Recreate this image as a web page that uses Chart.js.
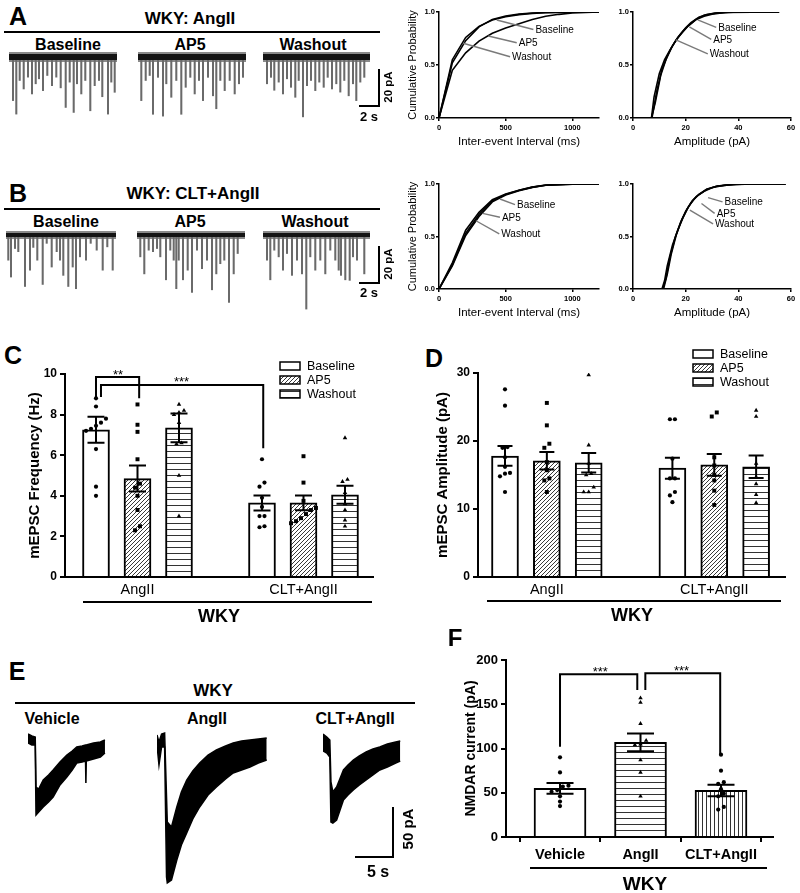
<!DOCTYPE html>
<html>
<head>
<meta charset="utf-8">
<title>WKY AngII mEPSC and NMDAR currents</title>
<script src="https://cdn.jsdelivr.net/npm/chart.js@4.4.1/dist/chart.umd.min.js"></script>
<style>
  html, body { margin: 0; padding: 0; background: #fff; }
  body { position: relative; width: 800px; height: 893px; overflow: hidden;
         font-family: "Liberation Sans", Arial, Helvetica, sans-serif; color: #000; }
  canvas { position: absolute; }
  .t { position: absolute; white-space: nowrap; line-height: 1; }
  .r { position: absolute; background: #000; }
</style>
</head>
<body>
<script>
// ---------- A / B: mEPSC traces, events as [time (s), amplitude (pA)] ----------
const traceA_Baseline = [[0.4,23.6],[0.73,30.9],[1.07,12.7],[1.47,17.3],[1.9,10.9],[2.3,20],[2.67,14.5],[3.0,11.8],[3.4,18.2],[3.83,10],[4.3,15.5],[4.73,10.9],[5.17,16.7],[5.67,27.3],[6.07,13.6],[6.47,30],[6.8,14.5],[7.23,20],[7.63,12.7],[8.13,29.1],[8.57,15.5],[9.0,12.7],[9.33,21.5],[9.9,30.9],[10.23,13.6],[10.57,19.1]];
const traceA_AP5 = [[0.33,23.6],[0.77,12.7],[1.17,10],[1.5,31],[2.0,11],[2.5,32],[2.83,14.5],[3.33,21.8],[3.83,12.7],[4.33,31],[4.77,16.4],[5.23,11],[5.67,20],[6.1,12.7],[6.5,23.6],[7.0,11],[7.5,21],[7.83,28],[8.23,12.7],[8.67,18.2],[9.17,12.7],[9.67,20],[10.1,14.5],[10.5,11]];
const traceA_Washout = [[0.4,14.5],[0.8,11],[1.13,18],[1.57,13.6],[2.0,20],[2.4,11.8],[2.8,16.4],[3.23,21.8],[3.57,12.7],[4.0,32.4],[4.4,15.5],[4.8,12.7],[5.23,18.2],[5.63,13.6],[6.07,16.4],[6.47,11],[6.9,17.3],[7.33,14.5],[7.73,19],[8.13,12.7],[8.57,21],[9.0,14.5],[9.33,23.6],[9.73,13.6],[10.13,11]];

const traceB_Baseline = [[0.23,13.6],[0.5,22.7],[0.9,7.3],[1.23,9],[1.9,27.8],[2.4,19],[2.73,6.7],[3.13,13.6],[3.67,26.7],[4.07,4.5],[4.57,17.3],[5.07,9],[5.4,13.6],[5.73,21.8],[6.23,27.8],[6.67,17.3],[7.0,29],[7.4,11.8],[8.0,13.6],[8.47,4.5],[9.07,8.2],[9.67,19],[10.13,6.4],[10.67,19]];
const traceB_AP5 = [[0.33,11.8],[0.73,21],[1.17,8.2],[1.6,9],[2.0,7.3],[2.33,11.8],[2.9,24.2],[3.33,8.2],[3.67,13.6],[3.93,29],[4.17,13.6],[4.6,24.2],[5.07,19],[5.5,31],[6.0,8.2],[6.5,18.2],[7.0,13.6],[7.5,29.6],[7.93,21],[8.33,15.5],[8.73,13.6],[9.2,36.4],[9.67,21],[10.07,10]];
const traceB_Washout = [[0.4,13.6],[0.73,24.2],[1.13,8.2],[1.57,11.8],[2.0,19],[2.4,10],[2.9,21.8],[3.4,13.6],[3.9,21],[4.33,40],[4.73,11.8],[5.23,19],[5.73,13.6],[6.23,21],[6.73,8.2],[7.23,13.6],[7.57,19],[7.8,21.8],[8.23,24.2],[8.67,24.5],[9.0,11.8],[9.4,13.6],[10.13,21]];

// ---------- A / B: cumulative probability curves, [x, probability] ----------
const ieiA_Baseline = [[0,0],[100,0.55],[200,0.76],[300,0.865],[400,0.925],[500,0.955],[600,0.975],[700,0.987],[800,0.993],[1000,0.998],[1200,1]];
const ieiA_AP5 = [[0,0],[100,0.52],[200,0.73],[300,0.86],[400,0.93],[500,0.962],[600,0.98],[700,0.99],[800,0.996],[1000,1],[1200,1]];
const ieiA_Washout = [[0,0],[100,0.45],[200,0.615],[300,0.725],[400,0.8],[500,0.85],[600,0.89],[700,0.93],[800,0.96],[900,0.978],[1000,0.99],[1200,1]];
const ampA_Baseline = [[0,0],[7,0],[8,0.2],[10,0.42],[12,0.55],[14,0.64],[16,0.72],[18,0.79],[20,0.85],[22,0.9],[25,0.95],[28,0.975],[32,0.99],[40,1],[55.5,1]];
const ampA_AP5 = [[0,0],[7.2,0],[9,0.25],[11,0.46],[13,0.58],[15,0.68],[17,0.76],[19,0.82],[21,0.87],[24,0.93],[27,0.96],[30,0.98],[35,0.995],[55.5,1]];
const ampA_Washout = [[0,0],[7,0],[8.5,0.15],[10.5,0.4],[12.5,0.55],[14.5,0.66],[16.5,0.74],[18.5,0.8],[21,0.87],[24,0.93],[27,0.97],[31,0.99],[38,1],[55.5,1]];
const ieiB_Baseline = [[0,0],[100,0.25],[200,0.56],[300,0.73],[400,0.85],[500,0.905],[600,0.94],[700,0.97],[800,0.988],[1000,0.998],[1200,1]];
const ieiB_AP5 = [[0,0],[100,0.23],[200,0.53],[300,0.71],[400,0.84],[500,0.9],[600,0.94],[700,0.97],[800,0.99],[1000,1],[1200,1]];
const ieiB_Washout = [[0,0],[100,0.22],[200,0.51],[300,0.69],[400,0.83],[500,0.895],[600,0.935],[700,0.968],[800,0.988],[1000,0.998],[1200,1]];
const ampB_Baseline = [[0,0],[11,0],[12,0.08],[13,0.22],[15,0.42],[17,0.56],[19,0.68],[21,0.78],[23,0.85],[25,0.9],[28,0.95],[32,0.98],[38,0.995],[45,1],[58,1]];
const ampB_AP5 = [[0,0],[11.3,0],[12.5,0.1],[14,0.3],[16,0.49],[18,0.63],[20,0.74],[22,0.82],[24,0.88],[27,0.93],[30,0.965],[35,0.99],[45,1],[58,1]];
const ampB_Washout = [[0,0],[11.6,0],[13,0.14],[14.5,0.33],[16.5,0.52],[18.5,0.66],[20.5,0.76],[22.5,0.84],[25,0.9],[28,0.95],[32,0.98],[40,1],[58,1]];
const ieiTicks = [0, 500, 1000];
const ampTicks = [0, 20, 40, 60];
const probTicks = [0, 0.5, 1];

// ---------- C / D: bars ----------
const groups = ['AngII', 'CLT+AngII'];
const conditions = ['Baseline', 'AP5', 'Washout'];
// order: AngII Baseline, AP5, Washout, CLT+AngII Baseline, AP5, Washout
const freqMean = [7.25, 4.85, 7.35, 3.65, 3.65, 4.05];
const freqSem = [0.64, 0.64, 0.71, 0.37, 0.36, 0.44];
const freqPoints = [
  [8.8, 8.4, 7.8, 7.6, 7.45, 7.3, 7.2, 6.3, 4.45, 4.0],
  [8.5, 7.5, 7.15, 5.8, 4.6, 4.4, 4.0, 3.3, 2.5, 2.3],
  [8.5, 8.2, 8.1, 8.0, 7.6, 6.6, 6.55, 5.0, 3.0],
  [5.8, 4.65, 4.45, 3.9, 3.45, 3.0, 3.0, 2.5, 2.45],
  [5.95, 4.65, 3.75, 3.4, 3.3, 3.1, 2.9, 2.75, 2.65],
  [6.85, 4.8, 4.7, 4.15, 3.6, 3.3, 2.8, 2.5]
];
const ampMean = [17.8, 17.1, 16.8, 16.0, 16.5, 16.2];
const ampSem = [1.45, 1.3, 1.45, 1.55, 1.6, 1.65];
const ampPoints = [
  [27.6, 25.2, 19.1, 19.0, 17.6, 16.2, 15.3, 15.2, 14.8, 12.5],
  [25.6, 22.3, 19.6, 19.0, 16.9, 15.7, 14.5, 14.2, 12.5],
  [29.7, 19.4, 16.7, 15.2, 15.0, 13.2, 12.5, 12.5],
  [23.2, 23.2, 17.4, 14.5, 14.5, 12.5, 12.0, 11.0],
  [24.2, 23.6, 17.6, 16.4, 15.0, 14.2, 12.7, 10.6],
  [24.5, 23.6, 16.7, 14.7, 13.7, 12.1, 10.9]
];

// ---------- E: NMDAR current traces, time (s), upper / lower edge (pA) ----------
const nmdaVehicle_t  = [0, 0.5, 0.95, 1.05, 1.4, 2.0, 2.7, 3.3, 4.2, 5.1, 5.8, 6.4, 7.1, 7.55, 7.6, 7.65, 8.6, 9.5, 10.1];
const nmdaVehicle_hi = [3, 1, 0, -50, -52, -43, -38, -33, -25, -18, -14, -10, -9, -8, -8, -8, -6, -5, -3];
const nmdaVehicle_lo = [-6, -8, -8, -78, -75, -70, -65, -60, -48, -40, -33, -26, -25, -24, -46, -24, -22, -20, -16];
const nmdaAngII_t  = [0, 0.26, 0.6, 1.0, 1.25, 1.35, 1.9, 2.6, 3.2, 3.9, 4.7, 5.6, 6.7, 7.8, 9.0, 10.0, 11.1, 12.2, 13.3, 14.4];
const nmdaAngII_hi = [2, -5, 3, 4, -60, -85, -90, -70, -55, -43, -34, -26, -18, -13, -9, -6, -4, -3, -2, -1];
const nmdaAngII_lo = [-8, -28, -10, -10, -140, -146, -143, -123, -108, -96, -82, -70, -58, -50, -42, -36, -33, -30, -26, -23];
const nmdaCLT_t  = [0, 0.5, 0.9, 1.05, 1.3, 1.8, 2.7, 3.3, 4.0, 4.8, 5.7, 6.6, 7.5, 8.5, 9.6, 10.2];
const nmdaCLT_hi = [3, 0, -3, -45, -55, -50, -33, -28, -23, -19, -15, -12, -10, -7, -5, -4];
const nmdaCLT_lo = [-14, -16, -20, -85, -86, -83, -63, -58, -53, -48, -43, -38, -33, -30, -26, -24];

// ---------- F: NMDAR current bars ----------
const nmdaGroups = ['Vehicle', 'AngII', 'CLT+AngII'];
const nmdaMean = [55, 107, 52.6];
const nmdaSem = [6, 10, 6.5];
const nmdaPoints = [
  [90, 73, 58, 57, 53, 51, 46, 40, 35],
  [157, 152, 128, 109, 105, 104, 87, 73, 46],
  [93, 75, 62, 60, 54, 49, 46, 34, 31]
];

// ---------- setup ----------
const FONT = '"Liberation Sans", Arial, Helvetica, sans-serif';
Chart.defaults.font.family = FONT;
Chart.defaults.color = '#000';
Chart.defaults.animation = false;
Chart.defaults.plugins.legend.display = false;
Chart.defaults.plugins.tooltip.enabled = false;
const base = { responsive: false, animation: false, devicePixelRatio: 1, events: [] };

function txt(s, x, y, size, bold, rot) {
  const d = document.createElement('div');
  d.className = 't';
  d.textContent = s;
  d.style.left = x + 'px';
  d.style.top = y + 'px';
  d.style.fontSize = size + 'px';
  d.style.fontWeight = bold ? 'bold' : 'normal';
  d.style.transform = 'translate(-50%,-50%)' + (rot ? ' rotate(' + rot + 'deg)' : '');
  document.body.appendChild(d);
}
function rule(x1, y1, x2, y2, w) {
  const d = document.createElement('div');
  d.className = 'r';
  if (y1 === y2) {
    d.style.left = x1 + 'px'; d.style.top = (y1 - w / 2) + 'px';
    d.style.width = (x2 - x1) + 'px'; d.style.height = w + 'px';
  } else {
    d.style.left = (x1 - w / 2) + 'px'; d.style.top = y1 + 'px';
    d.style.width = w + 'px'; d.style.height = (y2 - y1) + 'px';
  }
  document.body.appendChild(d);
}
function canvasAt(left, top, w, h) {
  const c = document.createElement('canvas');
  c.width = w; c.height = h;
  c.style.left = left + 'px'; c.style.top = top + 'px';
  c.style.width = w + 'px'; c.style.height = h + 'px';
  document.body.appendChild(c);
  return c;
}

function pattern(kind) {
  const c = document.createElement('canvas');
  const ctx = c.getContext('2d');
  if (kind === 'diag') {
    c.width = c.height = 4;
    ctx.fillStyle = '#fff'; ctx.fillRect(0, 0, 4, 4);
    ctx.strokeStyle = '#222'; ctx.lineWidth = 0.9;
    ctx.beginPath();
    ctx.moveTo(0, 4); ctx.lineTo(4, 0);
    ctx.moveTo(-1, 1); ctx.lineTo(1, -1);
    ctx.moveTo(3, 5); ctx.lineTo(5, 3);
    ctx.stroke();
  } else if (kind === 'horiz') {
    c.width = 6; c.height = 6;
    ctx.fillStyle = '#fff'; ctx.fillRect(0, 0, 6, 6);
    ctx.fillStyle = '#333'; ctx.fillRect(0, 5, 6, 1);
  } else if (kind === 'vert') {
    c.width = 4; c.height = 4;
    ctx.fillStyle = '#fff'; ctx.fillRect(0, 0, 4, 4);
    ctx.fillStyle = '#333'; ctx.fillRect(3, 0, 1, 4);
  }
  return ctx.createPattern(c, 'repeat');
}
const FILL = { white: '#fff', diag: pattern('diag'), horiz: pattern('horiz'), vert: pattern('vert') };

// spread points with close values side by side (like a scatter dot plot)
function swarm(vals, tol, dx) {
  const idx = vals.map((v, i) => i).sort((a, b) => vals[a] - vals[b]);
  const off = vals.map(() => 0);
  let g = [idx[0]];
  const flush = () => g.forEach((k, j) => { off[k] = (j - (g.length - 1) / 2) * dx; });
  for (let n = 1; n < idx.length; n++) {
    if (vals[idx[n]] - vals[g[g.length - 1]] < tol) g.push(idx[n]);
    else { flush(); g = [idx[n]]; }
  }
  flush();
  return off;
}

// ---------- inline plugins ----------
function semBars(sems, cap) {
  return {
    id: 'semBars',
    afterDatasetDraw(chart, args) {
      if (args.index !== 0) return;
      const { ctx } = chart, y = chart.scales.y;
      const vals = chart.data.datasets[0].data;
      ctx.save();
      ctx.strokeStyle = '#000'; ctx.lineWidth = 2;
      chart.getDatasetMeta(0).data.forEach((b, i) => {
        const hi = y.getPixelForValue(vals[i].y + sems[i]);
        const lo = y.getPixelForValue(vals[i].y - sems[i]);
        ctx.beginPath();
        ctx.moveTo(b.x, hi); ctx.lineTo(b.x, lo);
        ctx.moveTo(b.x - cap / 2, hi); ctx.lineTo(b.x + cap / 2, hi);
        ctx.moveTo(b.x - cap / 2, lo); ctx.lineTo(b.x + cap / 2, lo);
        ctx.stroke();
      });
      ctx.restore();
    }
  };
}
function brackets(items) {
  return {
    id: 'brackets',
    afterDatasetsDraw(chart) {
      const { ctx, scales: { x, y } } = chart;
      ctx.save();
      ctx.strokeStyle = '#000'; ctx.lineWidth = 2;
      ctx.fillStyle = '#000'; ctx.font = '13px ' + FONT;
      ctx.textAlign = 'center'; ctx.textBaseline = 'alphabetic';
      items.forEach(b => {
        const x1 = x.getPixelForValue(b.x1), x2 = x.getPixelForValue(b.x2), yt = y.getPixelForValue(b.top);
        ctx.beginPath();
        ctx.moveTo(x1, y.getPixelForValue(b.y1));
        ctx.lineTo(x1, yt); ctx.lineTo(x2, yt);
        ctx.lineTo(x2, y.getPixelForValue(b.y2));
        ctx.stroke();
        ctx.fillText(b.text, x.getPixelForValue(b.tx), yt + 1.5);
      });
      ctx.restore();
    }
  };
}
function boxLegend(labels, fills, dx, dy, gap) {
  return {
    id: 'boxLegend',
    afterDraw(chart) {
      const { ctx, chartArea } = chart;
      ctx.save();
      ctx.font = '12.5px ' + FONT; ctx.textBaseline = 'middle'; ctx.textAlign = 'left';
      labels.forEach((lab, i) => {
        const x0 = chartArea.left + dx, yc = chartArea.top + dy + i * gap;
        ctx.fillStyle = fills[i]; ctx.fillRect(x0, yc - 4, 20, 8);
        ctx.strokeStyle = '#000'; ctx.lineWidth = 1.5; ctx.strokeRect(x0, yc - 4, 20, 8);
        ctx.fillStyle = '#000'; ctx.fillText(lab, x0 + 27, yc + 0.5);
      });
      ctx.restore();
    }
  };
}
function leaders(notes) {
  return {
    id: 'leaders',
    afterDatasetsDraw(chart) {
      const { ctx, scales: { x, y } } = chart;
      ctx.save();
      ctx.strokeStyle = '#7a7a7a'; ctx.lineWidth = 1.4;
      ctx.fillStyle = '#000'; ctx.font = '10px ' + FONT;
      ctx.textBaseline = 'middle'; ctx.textAlign = 'left';
      notes.forEach(n => {
        const x2 = x.getPixelForValue(n.to[0]), y2 = y.getPixelForValue(n.to[1]);
        ctx.beginPath();
        ctx.moveTo(x.getPixelForValue(n.from[0]), y.getPixelForValue(n.from[1]));
        ctx.lineTo(x2, y2);
        ctx.stroke();
        ctx.fillText(n.text, x2 + 2, y2 + 0.5);
      });
      ctx.restore();
    }
  };
}

// ---------- chart builders ----------
function eventTrace(left, top, w, h, events, tMax, yMin, yMax, band) {
  const flat = [{ x: 0, y: 0 }, { x: tMax, y: 0 }];
  new Chart(canvasAt(left, top, w, h), {
    type: 'bar',
    data: {
      datasets: [
        { type: 'line', data: flat, borderColor: '#141414', borderWidth: band, pointRadius: 0, order: 0 },
        { type: 'line', data: flat, borderColor: '#8a8a8a', borderWidth: band + 4, pointRadius: 0, order: 2 },
        { type: 'bar', data: events.map(([t, a]) => ({ x: t, y: [0, -a] })),
          backgroundColor: '#6a6a6a', barThickness: 1.4, order: 1 }
      ]
    },
    options: {
      ...base,
      layout: { padding: 0 },
      scales: {
        x: { type: 'linear', min: 0, max: tMax, offset: false, display: false },
        y: { min: yMin, max: yMax, display: false }
      }
    }
  });
}

function nmdaTrace(left, top, w, h, t, hi, lo, tMax) {
  new Chart(canvasAt(left, top, w, h), {
    type: 'line',
    data: {
      datasets: [
        { data: t.map((v, i) => ({ x: v, y: hi[i] })), borderColor: '#000', borderWidth: 1.5,
          pointRadius: 0, fill: '+1', backgroundColor: '#000' },
        { data: t.map((v, i) => ({ x: v, y: lo[i] })), borderColor: '#000', borderWidth: 1.5,
          pointRadius: 0, fill: false }
      ]
    },
    options: {
      ...base,
      layout: { padding: 0 },
      scales: {
        x: { type: 'linear', min: 0, max: tMax, display: false },
        y: { min: -153, max: 12, display: false }
      }
    }
  });
}

function cumPanel(pl, pt, pw, ph, curves, xTicks, xTitle, yTitle, notes) {
  const L = yTitle ? 37 : 24, B = 35, T = 8, R = 9;
  new Chart(canvasAt(pl - L, pt - T, pw + L + R, ph + T + B), {
    type: 'line',
    data: {
      datasets: curves.map(d => ({
        data: d.map(([x, y]) => ({ x, y })), borderColor: '#000', borderWidth: 1.6,
        pointRadius: 0, tension: 0, fill: false
      }))
    },
    options: {
      ...base,
      layout: { padding: { left: 0, top: T, right: R, bottom: 0 } },
      scales: {
        x: {
          type: 'linear', min: 0, max: xTicks === ieiTicks ? 1200 : 60,
          afterFit: s => { s.height = B; },
          afterBuildTicks: s => { s.ticks = xTicks.map(v => ({ value: v })); },
          border: { color: '#000', width: 1.5 },
          grid: { drawOnChartArea: false, tickLength: 3, color: '#000', lineWidth: 1.5 },
          ticks: { padding: 2, maxRotation: 0, autoSkip: false, font: { size: 7.5, weight: 'bold' },
                   callback: v => String(v) },
          title: { display: true, text: xTitle, font: { size: 11.5 }, padding: { top: 2, bottom: 4 } }
        },
        y: {
          min: 0, max: 1, afterFit: s => { s.width = L; },
          afterBuildTicks: s => { s.ticks = probTicks.map(v => ({ value: v })); },
          border: { color: '#000', width: 1.5 },
          grid: { drawOnChartArea: false, tickLength: 3, color: '#000', lineWidth: 1.5 },
          ticks: { padding: 1, autoSkip: false, font: { size: 7.5, weight: 'bold' }, callback: v => v.toFixed(1) },
          title: { display: !!yTitle, text: yTitle || '', font: { size: 11 }, padding: { top: 4, bottom: 0 } }
        }
      }
    },
    plugins: [leaders(notes)]
  });
}

function barPanel(o) {
  const sets = [{
    type: 'bar', order: 3,
    data: o.means.map((m, i) => ({ x: o.slots[i], y: m })),
    backgroundColor: o.fills, borderColor: '#000', borderWidth: 2, barThickness: o.barW
  }];
  o.points.forEach((vals, i) => {
    const off = swarm(vals, o.tol, o.dx);
    const shape = o.shapes[i];
    sets.push({
      type: 'scatter', order: 1,
      data: vals.map((v, j) => ({ x: o.slots[i] + off[j], y: v })),
      pointStyle: shape, pointRadius: shape === 'circle' ? 2.1 : (shape === 'rect' ? 2.8 : 2.6),
      backgroundColor: '#000', borderColor: '#000', borderWidth: 0
    });
  });
  const plugins = [semBars(o.sems, o.cap), brackets(o.brackets || [])];
  if (o.legend) plugins.push(boxLegend(o.legend.labels, o.legend.fills, o.legend.dx, o.legend.dy, 14));
  new Chart(canvasAt(o.box[0], o.box[1], o.box[2], o.box[3]), {
    type: 'bar',
    data: { datasets: sets },
    options: {
      ...base,
      layout: { padding: { left: 0, top: o.padT, right: o.padR, bottom: 0 } },
      scales: {
        x: {
          type: 'linear', min: o.xMin, max: o.xMax, offset: false,
          afterFit: s => { s.height = o.xH; },
          afterBuildTicks: s => { s.ticks = o.tickAt.map(v => ({ value: v })); },
          border: { color: '#000', width: 2 },
          grid: { display: o.xTicks, drawOnChartArea: false, drawTicks: o.xTicks, tickLength: 5,
                  color: '#000', lineWidth: 2 },
          ticks: { padding: 4, autoSkip: false, maxRotation: 0, font: o.xFont,
                   callback: (v, i) => o.tickText[i] }
        },
        y: {
          min: 0, max: o.yMax, afterFit: s => { s.width = o.yW; },
          border: { color: '#000', width: 2 },
          grid: { drawOnChartArea: false, tickLength: 5, color: '#000', lineWidth: 2 },
          ticks: { stepSize: o.yStep, padding: 3, font: { size: o.yTickSize, weight: 'bold' } },
          title: { display: true, text: o.yTitle, font: { size: o.yTitleSize, weight: 'bold' },
                   padding: { top: 4, bottom: 0 } }
        }
      }
    },
    plugins
  });
}

// ---------- panel A ----------
txt('A', 18, 16, 25, true);
txt('WKY: AngII', 190, 18, 17, true);
rule(4, 32, 380, 32, 2.5);
txt(conditions[0], 68, 45, 16, true);
txt(conditions[1], 190, 45, 16, true);
txt(conditions[2], 313, 45, 16, true);
eventTrace(9, 45, 108, 80, traceA_Baseline, 10.8, -36.8, 6.5, 6);
eventTrace(138, 45, 108, 80, traceA_AP5, 10.8, -36.8, 6.5, 6);
eventTrace(263, 45, 107, 80, traceA_Washout, 10.7, -36.8, 6.5, 6);
rule(379, 69, 379, 107, 2);
rule(359, 106, 380, 106, 2);
txt('20 pA', 389, 87, 11.5, true, -90);
txt('2 s', 369, 116, 13, true);

cumPanel(439, 12, 160, 106, [ieiA_Baseline, ieiA_AP5, ieiA_Washout], ieiTicks,
  'Inter-event Interval (ms)', 'Cumulative Probability', [
    { from: [433, 0.925], to: [708, 0.835], text: 'Baseline' },
    { from: [370, 0.774], to: [583, 0.71], text: 'AP5' },
    { from: [182, 0.705], to: [533, 0.578], text: 'Washout' }
  ]);
cumPanel(633, 12, 158, 106, [ampA_Baseline, ampA_AP5, ampA_Washout], ampTicks,
  'Amplitude (pA)', null, [
    { from: [24.6, 0.925], to: [31.6, 0.855], text: 'Baseline' },
    { from: [21.4, 0.86], to: [29.7, 0.742], text: 'AP5' },
    { from: [16.3, 0.736], to: [28.4, 0.604], text: 'Washout' }
  ]);

// ---------- panel B ----------
txt('B', 18, 193, 25, true);
txt('WKY: CLT+AngII', 193, 193, 17, true);
rule(4, 209, 380, 209, 2.5);
txt(conditions[0], 66, 222, 16, true);
txt(conditions[1], 190, 222, 16, true);
txt(conditions[2], 315, 222, 16, true);
eventTrace(6, 225, 110, 85, traceB_Baseline, 11, -40.5, 5.4, 4);
eventTrace(137, 225, 108, 85, traceB_AP5, 10.8, -40.5, 5.4, 4);
eventTrace(263, 225, 107, 85, traceB_Washout, 10.7, -40.5, 5.4, 4);
rule(379, 246, 379, 284, 2);
rule(359, 283, 380, 283, 2);
txt('20 pA', 389, 264, 11.5, true, -90);
txt('2 s', 369, 292, 13, true);

cumPanel(439, 184, 160, 105, [ieiB_Baseline, ieiB_AP5, ieiB_Washout], ieiTicks,
  'Inter-event Interval (ms)', 'Cumulative Probability', [
    { from: [457, 0.857], to: [570, 0.803], text: 'Baseline' },
    { from: [327, 0.72], to: [457, 0.683], text: 'AP5' },
    { from: [277, 0.65], to: [452, 0.524], text: 'Washout' }
  ]);
cumPanel(633, 184, 158, 105, [ampB_Baseline, ampB_AP5, ampB_Washout], ampTicks,
  'Amplitude (pA)', null, [
    { from: [28.5, 0.87], to: [34, 0.83], text: 'Baseline' },
    { from: [26, 0.814], to: [31, 0.72], text: 'AP5' },
    { from: [21.6, 0.752], to: [30.4, 0.62], text: 'Washout' }
  ]);

// ---------- panels C and D ----------
const slots6 = [0, 1, 2, 4, 5, 6];
const fills6 = [FILL.white, FILL.diag, FILL.horiz, FILL.white, FILL.diag, FILL.horiz];
const shapes6 = ['circle', 'rect', 'triangle', 'circle', 'rect', 'triangle'];
const legend3 = { labels: conditions, fills: [FILL.white, FILL.diag, FILL.horiz] };

txt('C', 13, 355, 25, true);
barPanel({
  box: [22, 350, 361, 257], padT: 24, padR: 10, yW: 43, xH: 30,
  xMin: -0.747, xMax: 6.675, slots: slots6, means: freqMean, sems: freqSem, points: freqPoints,
  fills: fills6, shapes: shapes6, barW: 27, cap: 17, tol: 0.25, dx: 0.12,
  tickAt: [1, 5], tickText: groups, xTicks: false, xFont: { size: 14.5 },
  yMax: 10, yStep: 2, yTickSize: 12, yTitle: 'mEPSC Frequency (Hz)', yTitleSize: 15,
  brackets: [
    { x1: 0, y1: 8.87, top: 9.85, x2: 1.04, y2: 8.8, text: '**', tx: 0.53 },
    { x1: 0.12, y1: 8.87, top: 9.46, x2: 4.03, y2: 6.34, text: '***', tx: 2.06 }
  ],
  legend: { ...legend3, dx: 215, dy: -8 }
});
rule(83, 602, 372, 602, 2.5);
txt('WKY', 219, 616, 18, true);

txt('D', 434, 358, 25, true);
barPanel({
  box: [430, 343, 365, 264], padT: 30, padR: 10, yW: 48, xH: 30,
  xMin: -0.645, xMax: 6.69, slots: slots6, means: ampMean, sems: ampSem, points: ampPoints,
  fills: fills6, shapes: shapes6, barW: 27, cap: 15, tol: 0.7, dx: 0.12,
  tickAt: [1, 5], tickText: groups, xTicks: false, xFont: { size: 14.5 },
  yMax: 30, yStep: 10, yTickSize: 12, yTitle: 'mEPSC Amplitude (pA)', yTitleSize: 15,
  legend: { ...legend3, dx: 215, dy: -19 }
});
rule(487, 601, 781, 601, 2.5);
txt('WKY', 632, 615, 18, true);

// ---------- panel E ----------
txt('E', 17, 671, 25, true);
txt('WKY', 213, 690, 17, true);
rule(15, 703, 415, 703, 2.5);
txt(nmdaGroups[0], 52, 719, 16, true);
txt(nmdaGroups[1], 207, 719, 16, true);
txt(nmdaGroups[2], 355, 719, 16, true);
nmdaTrace(28, 725, 80, 165, nmdaVehicle_t, nmdaVehicle_hi, nmdaVehicle_lo, 10.5);
nmdaTrace(157, 725, 112, 165, nmdaAngII_t, nmdaAngII_hi, nmdaAngII_lo, 14.7);
nmdaTrace(323, 725, 78, 165, nmdaCLT_t, nmdaCLT_hi, nmdaCLT_lo, 10.3);
rule(393, 807, 393, 858, 2);
rule(355, 857, 394, 857, 2);
txt('50 pA', 407, 829, 15, true, -90);
txt('5 s', 378, 872, 16, true);

// ---------- panel F ----------
txt('F', 455, 638, 24, true);
barPanel({
  box: [459, 645, 326, 220], padT: 15, padR: 12, yW: 47, xH: 28,
  xMin: -0.671, xMax: 2.646, slots: [0, 1, 2], means: nmdaMean, sems: nmdaSem, points: nmdaPoints,
  fills: [FILL.white, FILL.horiz, FILL.vert], shapes: ['circle', 'triangle', 'circle'],
  barW: 52, cap: 27, tol: 4.5, dx: 0.07,
  tickAt: [0, 1, 2], tickText: nmdaGroups, xTicks: true, xFont: { size: 14.5, weight: 'bold' },
  yMax: 200, yStep: 50, yTickSize: 13, yTitle: 'NMDAR current (pA)', yTitleSize: 14,
  brackets: [
    { x1: 0, y1: 102, top: 184, x2: 0.96, y2: 166, text: '***', tx: 0.5 },
    { x1: 1.06, y1: 166, top: 185, x2: 1.99, y2: 93, text: '***', tx: 1.51 }
  ]
});
rule(530, 868, 767, 868, 2.5);
txt('WKY', 645, 883, 19, true);
</script>
</body>
</html>
